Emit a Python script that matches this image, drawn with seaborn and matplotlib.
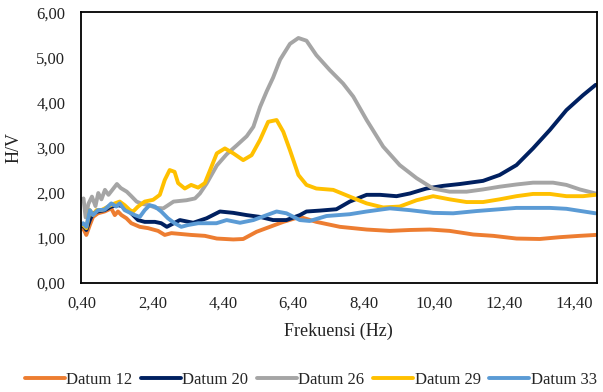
import numpy as np
import pandas as pd
import matplotlib
matplotlib.use("Agg")
import matplotlib.pyplot as plt
import seaborn as sns
from matplotlib.lines import Line2D

# ---- data ----
series_names = ["Datum 12", "Datum 20", "Datum 26", "Datum 29", "Datum 33"]
series_colors = ["#ED7D31", "#002060", "#A5A5A5", "#FFC000", "#5B9BD5"]

x_d12 = [0.40, 0.43, 0.52, 0.62, 0.71, 0.85, 1.04, 1.23, 1.33, 1.42, 1.52, 1.66, 1.80, 2.04, 2.28,
         2.56, 2.75, 2.94, 3.22, 3.50, 3.89, 4.23, 4.70, 4.98, 5.36, 5.74, 6.12, 6.59, 7.06, 7.73,
         8.49, 9.15, 9.72, 10.29, 10.85, 11.52, 12.09, 12.75, 13.41, 13.98, 14.55, 15.00]
y_d12 = [1.20, 1.21, 1.06, 1.28, 1.46, 1.54, 1.58, 1.65, 1.50, 1.58, 1.50, 1.43, 1.32, 1.24, 1.21,
         1.15, 1.06, 1.10, 1.08, 1.06, 1.04, 0.98, 0.96, 0.97, 1.13, 1.24, 1.35, 1.46, 1.35, 1.24,
         1.18, 1.15, 1.17, 1.18, 1.15, 1.07, 1.04, 0.98, 0.97, 1.01, 1.04, 1.06]

x_d20 = [0.40, 0.43, 0.52, 0.62, 0.71, 0.85, 1.04, 1.23, 1.42, 1.61, 1.80, 1.99, 2.18, 2.47, 2.65,
         2.81, 3.18, 3.56, 3.94, 4.32, 4.70, 5.08, 5.46, 5.83, 6.21, 6.59, 6.78, 7.16, 7.63, 8.01,
         8.49, 8.87, 9.34, 9.72, 10.19, 10.67, 11.14, 11.80, 12.27, 12.75, 13.22, 13.70, 14.17,
         14.64, 15.00]
y_d20 = [1.25, 1.28, 1.17, 1.39, 1.54, 1.58, 1.61, 1.69, 1.72, 1.69, 1.54, 1.39, 1.35, 1.35, 1.32,
         1.24, 1.39, 1.33, 1.43, 1.58, 1.55, 1.50, 1.46, 1.39, 1.39, 1.50, 1.58, 1.60, 1.63, 1.80,
         1.95, 1.95, 1.92, 1.98, 2.09, 2.15, 2.19, 2.26, 2.39, 2.61, 2.98, 3.39, 3.83, 4.16, 4.39]

x_d26 = [0.40, 0.44, 0.50, 0.58, 0.68, 0.78, 0.86, 0.95, 1.05, 1.15, 1.25, 1.39, 1.50, 1.67, 1.80,
         1.95, 2.10, 2.30, 2.50, 2.71, 3.00, 3.37, 3.61, 3.75, 3.94, 4.23, 4.51, 4.80, 5.08, 5.27,
         5.46, 5.65, 5.83, 6.03, 6.31, 6.55, 6.78, 7.06, 7.44, 7.82, 8.11, 8.49, 8.96, 9.43, 9.91,
         10.38, 10.85, 11.33, 11.80, 12.27, 12.75, 13.22, 13.79, 14.17, 14.55, 15.00]
y_d26 = [1.85, 1.87, 1.45, 1.75, 1.91, 1.70, 1.99, 1.85, 2.06, 1.95, 2.05, 2.19, 2.10, 2.02, 1.92,
         1.80, 1.75, 1.72, 1.66, 1.65, 1.80, 1.83, 1.87, 1.98, 2.20, 2.60, 2.85, 3.05, 3.25, 3.46,
         3.90, 4.25, 4.55, 4.95, 5.30, 5.43, 5.37, 5.05, 4.72, 4.42, 4.13, 3.61, 3.02, 2.61, 2.32,
         2.09, 2.02, 2.02, 2.07, 2.13, 2.18, 2.22, 2.22, 2.17, 2.07, 1.98]

x_d29 = [0.40, 0.43, 0.52, 0.62, 0.71, 0.81, 0.95, 1.14, 1.33, 1.47, 1.61, 1.76, 1.85, 1.99, 2.18,
         2.42, 2.61, 2.75, 2.89, 3.03, 3.13, 3.32, 3.50, 3.70, 3.89, 4.04, 4.23, 4.46, 4.70, 4.98,
         5.22, 5.46, 5.69, 5.93, 6.12, 6.31, 6.55, 6.78, 7.06, 7.54, 8.01, 8.49, 8.96, 9.43, 9.91,
         10.38, 10.85, 11.33, 11.80, 12.27, 12.75, 13.22, 13.70, 14.17, 14.64, 15.00]
y_d29 = [1.30, 1.28, 1.21, 1.61, 1.50, 1.61, 1.61, 1.69, 1.76, 1.80, 1.72, 1.61, 1.58, 1.69, 1.80,
         1.84, 1.95, 2.28, 2.50, 2.46, 2.21, 2.09, 2.17, 2.11, 2.21, 2.50, 2.87, 2.98, 2.87, 2.72,
         2.83, 3.17, 3.57, 3.61, 3.35, 2.94, 2.39, 2.17, 2.09, 2.06, 1.91, 1.76, 1.67, 1.69, 1.83,
         1.92, 1.85, 1.79, 1.79, 1.85, 1.92, 1.97, 1.97, 1.92, 1.92, 1.95]

x_d33 = [0.40, 0.43, 0.52, 0.62, 0.71, 0.85, 1.04, 1.23, 1.37, 1.47, 1.61, 1.90, 2.04, 2.18, 2.32,
         2.47, 2.65, 2.84, 3.03, 3.22, 3.41, 3.70, 3.98, 4.22, 4.51, 4.89, 5.27, 5.65, 5.93, 6.21,
         6.59, 6.87, 7.35, 8.01, 8.49, 9.15, 9.72, 10.38, 10.95, 11.61, 12.27, 12.75, 13.70, 14.17,
         15.00]
y_d33 = [1.30, 1.32, 1.24, 1.61, 1.50, 1.61, 1.62, 1.76, 1.69, 1.76, 1.61, 1.50, 1.46, 1.61, 1.72,
         1.69, 1.58, 1.43, 1.32, 1.24, 1.28, 1.32, 1.32, 1.32, 1.39, 1.33, 1.39, 1.50, 1.58, 1.54,
         1.39, 1.37, 1.48, 1.52, 1.58, 1.65, 1.61, 1.55, 1.54, 1.59, 1.63, 1.66, 1.66, 1.64, 1.54]

x_ticks = [0.40, 2.40, 4.40, 6.40, 8.40, 10.40, 12.40, 14.40]
y_ticks = [0, 1, 2, 3, 4, 5, 6]
x_label = "Frekuensi (Hz)"
y_label = "H/V"

# ---- build long table ----
xs = [x_d12, x_d20, x_d26, x_d29, x_d33]
ys = [y_d12, y_d20, y_d26, y_d29, y_d33]
frames = [pd.DataFrame({"f": x, "hv": y, "series": n}) for n, x, y in zip(series_names, xs, ys)]
df = pd.concat(frames, ignore_index=True)

# ---- style ----
sns.set_style("white")
plt.rcParams["font.family"] = ["Liberation Serif", "DejaVu Serif"]

fig = plt.figure(figsize=(6.03, 3.92), dpi=100)
ax = fig.add_axes([0.1338, 0.2788, 0.9895 - 0.1338, 0.9686 - 0.2788])

sns.lineplot(data=df, x="f", y="hv", hue="series", hue_order=series_names,
             palette=series_colors, estimator=None, sort=False, linewidth=2.8,
             legend=False, ax=ax)

ax.set_xlim(0.36, 15.03)
ax.set_ylim(0, 6)
ax.set_xticks(x_ticks)
ax.set_xticklabels([f"{v:.2f}".replace(".", ",") for v in x_ticks])
ax.set_yticks(y_ticks)
ax.set_yticklabels([f"{v:.2f}".replace(".", ",") for v in y_ticks])
ax.tick_params(axis="both", length=0, labelsize=12, colors="#222222")
ax.tick_params(axis="y", pad=11)
ax.tick_params(axis="x", pad=9)
for s in ax.spines.values():
    s.set_visible(True)
    s.set_color("black")
    s.set_linewidth(1.3)

ax.set_xlabel(x_label, fontsize=13, color="#222222", labelpad=8)
ax.set_ylabel(y_label, fontsize=13, color="#222222", labelpad=10)

handles = [Line2D([0], [0], color=c, linewidth=2.8) for c in series_colors]
fig.legend(handles, series_names, loc="center", bbox_to_anchor=(0.515, 0.03),
           ncol=5, frameon=False, fontsize=12, handlelength=2.4,
           handletextpad=0.1, columnspacing=0.5)

fig.savefig("out.png", dpi=100, facecolor="white")
